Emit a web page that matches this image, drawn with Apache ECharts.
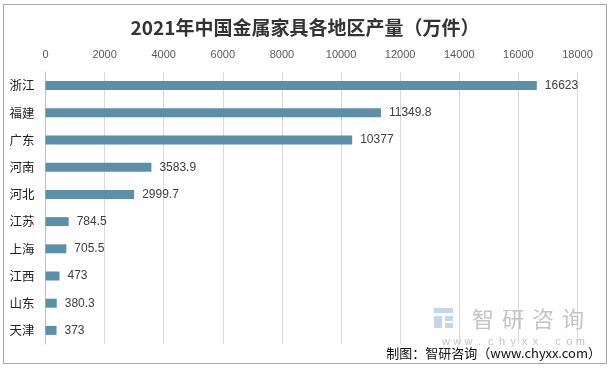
<!DOCTYPE html>
<html>
<head>
<meta charset="utf-8">
<script src="https://cdn.jsdelivr.net/npm/echarts@6/dist/echarts.min.js"></script>
<style>html,body{margin:0;padding:0;background:#fff;}#c{width:610px;height:369px;}</style>
</head>
<body>
<div id="c"></div>
<script>
const titleText = '2021年中国金属家具各地区产量（万件）';
const categories = ['浙江','福建','广东','河南','河北','江苏','上海','江西','山东','天津'];
const values = [16623, 11349.8, 10377, 3583.9, 2999.7, 784.5, 705.5, 473, 380.3, 373];
const footerText = '制图：智研咨询（www.chyxx.com）';
const wmChars = ['智','研','咨','询'];
const wmUrl = 'www.chyxx.com';

const chart = echarts.init(document.getElementById('c'), null, {renderer:'canvas'});
const graphics = [
  {type:'rect', shape:{x:3.5,y:4.5,width:603,height:359}, style:{fill:'none', stroke:'#a6a6a6', lineWidth:1}, z:0},
  {type:'text', right:9, top:347, style:{text:footerText, font:'13px "Noto Sans CJK SC", sans-serif', fill:'#111'}, z:10},
  {type:'rect', shape:{x:434,y:308,width:19,height:5}, style:{fill:'#c5d6e8'}, z:1},
  {type:'rect', shape:{x:434,y:316,width:8,height:12}, style:{fill:'#c5d6e8'}, z:1},
  {type:'rect', shape:{x:445,y:316,width:8,height:5}, style:{fill:'#c5d6e8'}, z:1},
  {type:'rect', shape:{x:445,y:323,width:8,height:5}, style:{fill:'#c5d6e8'}, z:1}
];
wmChars.forEach((ch,i)=>{
  graphics.push({type:'text', x:472 + i*30, y:308, style:{text:ch, font:'22px "Noto Sans CJK SC", sans-serif', fill:'#c4c4c4'}, z:1});
});
wmUrl.split('').forEach((ch,i)=>{
  graphics.push({type:'text', x:446 + i*11.2, y:336, style:{text:ch, font:'11px "Liberation Sans", sans-serif', fill:'#c4c4c4', align:'center'}, z:1});
});

chart.setOption({
  animation:false,
  backgroundColor:'#fff',
  title:{text:titleText, left:'center', top:13,
    textStyle:{fontFamily:'"Noto Sans CJK SC", sans-serif', fontSize:19, fontWeight:'bold', color:'#333'}},
  grid:{left:45.5, top:72, width:532, height:272, containLabel:false},
  xAxis:{type:'value', position:'top', min:0, max:18000, interval:2000,
    axisLine:{show:false}, axisTick:{show:false},
    axisLabel:{margin:12, fontSize:11, color:'#595959', fontFamily:'"Liberation Sans", sans-serif',
      formatter:(v)=>String(v)},
    splitLine:{lineStyle:{color:'#d9d9d9', width:1}}},
  yAxis:{type:'category', data:categories, inverse:true,
    axisLine:{show:true, lineStyle:{color:'#bfbfbf'}}, axisTick:{show:false},
    axisLabel:{margin:11, fontSize:12.5, color:'#222', fontFamily:'"Noto Sans CJK SC", sans-serif'}},
  series:[{type:'bar', data:values, barWidth:9, itemStyle:{color:'#5b90a8'},
    label:{show:true, position:'right', distance:8, fontSize:12, color:'#404040', fontFamily:'"Liberation Sans", sans-serif'}}],
  graphic:graphics
});
</script>
</body>
</html>
